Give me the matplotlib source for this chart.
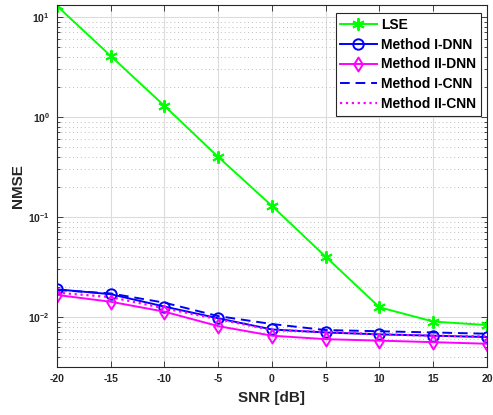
import numpy as np
import matplotlib
matplotlib.use("Agg")
import matplotlib.pyplot as plt
from matplotlib.ticker import LogLocator, FixedLocator
from matplotlib.path import Path

plt.rcParams['font.family'] = ['Liberation Sans', 'DejaVu Sans']
plt.rcParams['font.weight'] = 'bold'
plt.rcParams['axes.unicode_minus'] = False
plt.rcParams['mathtext.fontset'] = 'custom'
plt.rcParams['mathtext.rm'] = 'Liberation Sans:bold'
plt.rcParams['mathtext.bf'] = 'Liberation Sans:bold'
plt.rcParams['mathtext.default'] = 'bf'

snr = [-20, -15, -10, -5, 0, 5, 10, 15, 20]
lse = [12.9, 4.07, 1.29, 0.398, 0.129, 0.040, 0.0125, 0.0090, 0.0083]
m1_dnn = [0.0189, 0.0169, 0.0127, 0.0097, 0.0075, 0.0070, 0.0067, 0.0065, 0.0063]
m2_dnn = [0.0166, 0.0142, 0.0113, 0.0081, 0.0065, 0.0060, 0.0058, 0.0056, 0.0054]
m1_cnn = [0.0186, 0.0172, 0.0139, 0.0102, 0.0085, 0.0074, 0.0072, 0.0070, 0.0068]
m2_cnn = [0.0175, 0.0158, 0.0122, 0.0095, 0.0074, 0.0071, 0.0067, 0.0065, 0.0064]

# tall diamond like the MATLAB one
diamond = Path([(0, 1), (0.62, 0), (0, -1), (-0.62, 0), (0, 1)],
               [Path.MOVETO, Path.LINETO, Path.LINETO, Path.LINETO, Path.CLOSEPOLY])

fig = plt.figure(figsize=(4.93, 4.15), dpi=100)
ax = fig.add_axes([0.1156, 0.1157, 0.8722, 0.8723])

ax.semilogy(snr, lse, '-', marker=(6, 2, 0), color=(0, 1, 0), lw=1.4, ms=9, mew=1.4, label='LSE')
ax.semilogy(snr, m1_dnn, '-o', color='blue', lw=1.4, ms=7.5, mew=1.4, mfc='none', label='Method I-DNN')
ax.semilogy(snr, m2_dnn, '-', marker=diamond, color='magenta', lw=1.4, ms=10, mew=1.4, mfc='none', label='Method II-DNN')
ax.semilogy(snr, m1_cnn, '--', color='blue', lw=1.4, dashes=(5, 3), label='Method I-CNN')
ax.semilogy(snr, m2_cnn, ':', color='magenta', lw=1.6, label='Method II-CNN')

ax.set_xlim(-20, 20)
ax.set_ylim(10 ** -2.5, 10 ** 1.12)
ax.xaxis.set_major_locator(FixedLocator(snr))
ax.yaxis.set_major_locator(LogLocator(base=10, numticks=10))
ax.yaxis.set_minor_locator(LogLocator(base=10, subs=np.arange(2, 10), numticks=20))

ax.grid(True, which='major', color='#dcdcdc', lw=0.8)
ax.grid(True, which='minor', color='#bdbdbd', lw=0.7, ls=(0, (1, 3)))
ax.set_axisbelow(True)

ax.tick_params(which='both', direction='in', top=True, right=True, labelsize=7.5, width=0.6, colors='#262626')
ax.tick_params(which='major', length=4, pad=5)
ax.tick_params(which='minor', length=2)
for lab in ax.get_xticklabels() + ax.get_yticklabels():
    lab.set_fontweight('bold')
for s in ax.spines.values():
    s.set_color('#262626')
    s.set_linewidth(0.8)

ax.set_xlabel('SNR [dB]', fontsize=11, fontweight='bold', color='#262626', labelpad=5)
ax.set_ylabel('NMSE', fontsize=11, fontweight='bold', color='#262626', labelpad=2)

leg = ax.legend(loc='upper right', bbox_to_anchor=(0.985, 0.978), fontsize=10, fancybox=False,
                framealpha=1, edgecolor='#262626', handlelength=2.6, borderpad=0.35,
                labelspacing=0.42, handletextpad=0.3, borderaxespad=0)
leg.get_frame().set_linewidth(0.8)
for t in leg.get_texts():
    t.set_fontweight('bold')

fig.savefig('out.png', dpi=100)
